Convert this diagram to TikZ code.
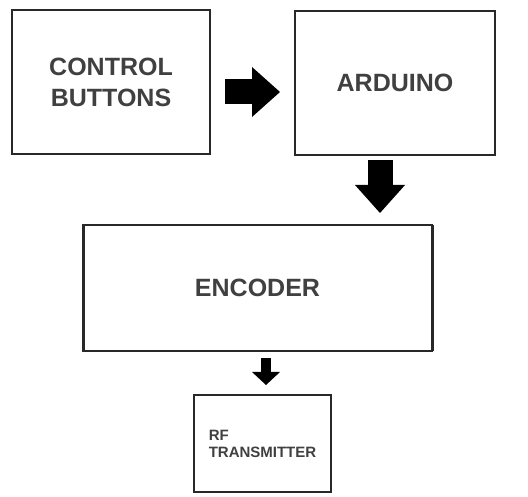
\documentclass[tikz,border=0pt]{standalone}
\usepackage{fontspec}
\setmainfont{Liberation Sans}
\usetikzlibrary{arrows.meta, positioning}
\definecolor{labelgray}{RGB}{64,64,64}
\definecolor{edgegray}{RGB}{40,40,40}
\tikzset{
    blockbox/.style={rectangle, draw=edgegray, line width=1.4pt, fill=white,
                     align=center, inner sep=0pt, outer sep=0pt, text=labelgray,
                     font=\bfseries\fontsize{25}{31}\selectfont},
    fatarrow/.style={draw=black, line width=25pt,
                     -{Triangle[length=28pt, width=50pt, line width=0pt]}},
    slimarrow/.style={draw=black, line width=10pt,
                      -{Triangle[length=13pt, width=28pt, line width=0pt]}},
}
\begin{document}
\begin{tikzpicture}[x=1pt, y=-1pt]
    \fill[white] (0,0) rectangle (528,497);
    \useasboundingbox (0,0) rectangle (528,497);
    \node[blockbox, minimum width=198pt, minimum height=144pt] (ctrl) at (111,82) {CONTROL\\BUTTONS};
    \node[blockbox, minimum width=200pt, minimum height=144pt] (arduino) at (395,83) {ARDUINO};
    \node[blockbox, minimum width=349pt, minimum height=126pt] (encoder) at (257.5,288) {ENCODER};
    \node[blockbox, minimum width=137pt, minimum height=97pt, align=left,
          font=\bfseries\fontsize{15}{17}\selectfont] (rf) at (262.5,443.5) {RF\\TRANSMITTER};
    % heavier side edges of the encoder
    \draw[edgegray, line width=3pt] (encoder.north west) -- (encoder.south west);
    \draw[edgegray, line width=3pt] (encoder.north east) -- (encoder.south east);
    \draw[fatarrow, shorten <=15pt, shorten >=15pt] ([yshift=-10pt]ctrl.east) -- ([yshift=-10pt]ctrl.east -| arduino.west);
    \draw[fatarrow, shorten <=5pt, shorten >=12pt] ([xshift=-15pt]arduino.south) -- ([xshift=-15pt]arduino.south |- encoder.north);
    \draw[slimarrow, shorten <=7pt, shorten >=10pt] ([xshift=3.5pt]rf.north |- encoder.south) -- ([xshift=3.5pt]rf.north);
\end{tikzpicture}
\end{document}
